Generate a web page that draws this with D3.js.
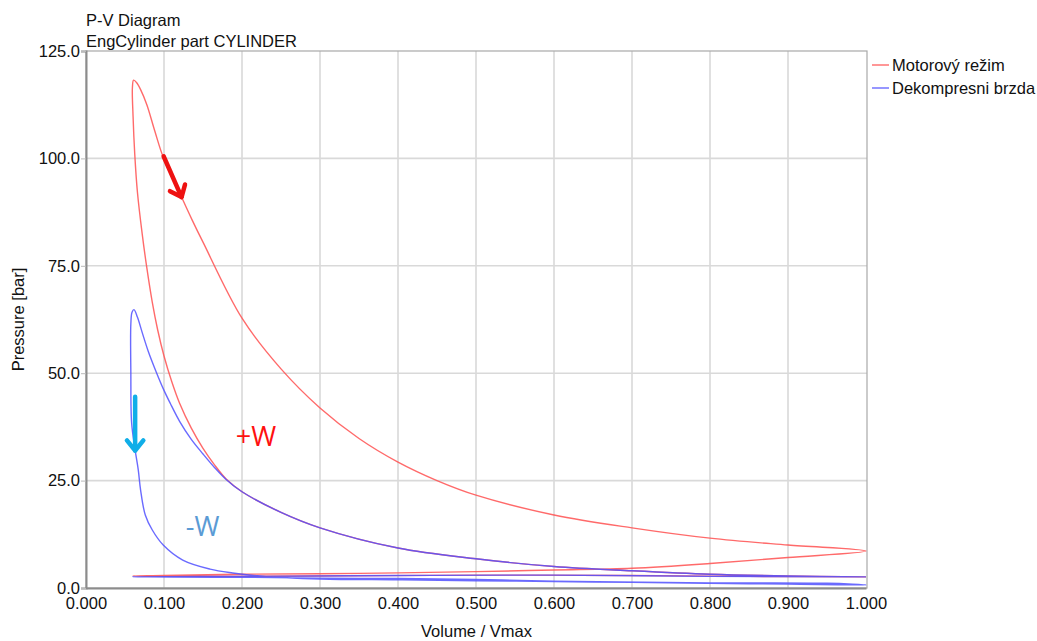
<!DOCTYPE html>
<html>
<head>
<meta charset="utf-8">
<script src="https://cdn.jsdelivr.net/npm/d3@7"></script>
<style>
  html, body { margin: 0; padding: 0; background: #fff; }
  svg text { font-family: "Liberation Sans", Arial, sans-serif; }
</style>
</head>
<body>
<svg id="chart" width="1037" height="641"></svg>
<script>
// Titles and axis labels
const titleLines = ["P-V Diagram", "EngCylinder part CYLINDER"];
const xLabel = "Volume / Vmax";
const yLabel = "Pressure [bar]";
const seriesNames = ["Motorový režim", "Dekompresni brzda"];
const seriesColors = ["#ff5050", "#5050ff"];

const xTicks = [0, 0.1, 0.2, 0.3, 0.4, 0.5, 0.6, 0.7, 0.8, 0.9, 1.0];
const yTicks = [0, 25, 50, 75, 100, 125];

// Engine mode cycle: compression, combustion, expansion, exhaust, intake  [V/Vmax, bar]
const motorCycle = [
  [1.0, 2.6], [0.9, 2.8], [0.8, 3.2], [0.7, 4.0], [0.6, 5.0], [0.5, 6.8],
  [0.4, 9.3], [0.3, 14.0], [0.25, 17.6], [0.2, 22.4], [0.18, 25.3],
  [0.165, 28.6], [0.15, 32.5], [0.135, 37.2], [0.12, 43.0], [0.11, 48.0],
  [0.1, 54.0], [0.092, 60.0], [0.085, 66.5], [0.078, 74.5], [0.072, 82.5],
  [0.066, 92.0], [0.0625, 101.0], [0.0603, 110.0], [0.0595, 116.5], [0.061, 118.2],
  [0.065, 117.6], [0.07, 116.0], [0.078, 112.5], [0.088, 106.5], [0.099, 100.3],
  [0.12, 92.0], [0.136, 85.7], [0.15, 80.5], [0.2, 62.8], [0.25, 51.0],
  [0.3, 41.9], [0.35, 34.8], [0.4, 29.3], [0.45, 25.0], [0.5, 21.6],
  [0.6, 17.0], [0.7, 14.0], [0.8, 11.6], [0.9, 10.0], [1.0, 8.6],
  [0.9, 7.1], [0.8, 5.7], [0.7, 4.6], [0.6, 4.2], [0.5, 3.8], [0.35, 3.4],
  [0.2, 3.2], [0.1, 2.9], [0.06, 2.8],
  [0.1, 2.7], [0.3, 2.8], [0.5, 3.0], [0.7, 2.9], [0.85, 2.7], [1.0, 2.6]
];

// Decompression brake cycle: compression, release at TDC, expansion, exhaust, intake
const brakeCycle = [
  [1.0, 2.6], [0.9, 2.8], [0.8, 3.2], [0.7, 4.0], [0.6, 5.0], [0.5, 6.8],
  [0.4, 9.3], [0.3, 14.0], [0.25, 17.6], [0.2, 22.4], [0.18, 25.2],
  [0.165, 28.0], [0.15, 31.2], [0.135, 34.6], [0.12, 38.8], [0.108, 43.0],
  [0.1, 46.0], [0.09, 50.3], [0.08, 55.0], [0.072, 59.5], [0.066, 63.0],
  [0.0615, 64.8], [0.059, 64.2], [0.0575, 61.5], [0.0575, 50.0],
  [0.0585, 38.4], [0.063, 32.1], [0.067, 27.5], [0.07, 22.8], [0.076, 17.0],
  [0.085, 13.5], [0.099, 10.0], [0.124, 6.5], [0.159, 4.4], [0.188, 3.5],
  [0.223, 2.8], [0.3, 2.1], [0.4, 1.9], [0.5, 1.7], [0.6, 1.5], [0.7, 1.3],
  [0.8, 1.1], [0.9, 0.9], [1.0, 0.7],
  [0.95, 1.1], [0.8, 1.2], [0.6, 1.6], [0.5, 2.0], [0.4, 2.2], [0.3, 2.3],
  [0.2, 2.5], [0.06, 2.6],
  [0.2, 2.7], [0.4, 2.9], [0.6, 3.0], [0.8, 2.7], [1.0, 2.6]
];

// Work direction annotations
const workLabels = [
  { text: "+W", v: 0.192, p: 33.0, color: "#ff1010" },
  { text: "-W", v: 0.128, p: 12.0, color: "#5b9bd5" }
];
const workArrows = [
  { from: [0.0995, 100.5], to: [0.1225, 91.0], color: "#ee1111" },
  { from: [0.063, 44.5], to: [0.063, 32.0], color: "#10aee8" }
];

const svg = d3.select("#chart");
const plot = { left: 86, right: 867, top: 51, bottom: 588 };

const x = d3.scaleLinear().domain([0, 1]).range([plot.left, plot.right - 1]);
const y = d3.scaleLinear().domain([0, 125]).range([plot.bottom, plot.top]);

// grid
const grid = svg.append("g");
grid.selectAll("line.vx").data(xTicks.slice(1, -1)).join("line")
  .attr("x1", d => x(d)).attr("x2", d => x(d))
  .attr("y1", plot.top).attr("y2", plot.bottom)
  .attr("stroke", "#d9d9d9").attr("stroke-width", 1.6);
grid.selectAll("line.hy").data(yTicks.slice(1, -1)).join("line")
  .attr("x1", plot.left).attr("x2", plot.right)
  .attr("y1", d => y(d)).attr("y2", d => y(d))
  .attr("stroke", "#d9d9d9").attr("stroke-width", 1.6);

// frame
svg.append("rect")
  .attr("x", plot.left).attr("y", plot.top)
  .attr("width", plot.right - plot.left).attr("height", plot.bottom - plot.top)
  .attr("fill", "none").attr("stroke", "#a8a8a8").attr("stroke-width", 1.2);

// axes
const yAxis = d3.axisLeft(y).tickValues(yTicks).tickFormat(d3.format(".1f"))
  .tickSize(5).tickPadding(0);
const gy = svg.append("g").attr("transform", `translate(${plot.left},0)`).call(yAxis);
gy.select(".domain").attr("stroke", "#8c8c8c").attr("stroke-width", 2);
gy.selectAll(".tick line").attr("stroke", "#bbbbbb");
gy.selectAll(".tick text").attr("font-size", 16.5).attr("fill", "#111")
  .attr("font-family", "Liberation Sans, Arial, sans-serif").attr("dx", -1);

const xAxis = d3.axisBottom(x).tickValues(xTicks).tickFormat(d3.format(".3f"))
  .tickSize(0).tickPadding(9);
const gx = svg.append("g").attr("transform", `translate(0,${plot.bottom})`).call(xAxis);
gx.select(".domain").attr("stroke", "#8c8c8c").attr("stroke-width", 2);
gx.selectAll(".tick text").attr("font-size", 16.5).attr("fill", "#111")
  .attr("font-family", "Liberation Sans, Arial, sans-serif");

// cycle curves
const line = d3.line().x(d => x(d[0])).y(d => y(d[1]))
  .curve(d3.curveCatmullRom.alpha(0.5));
[motorCycle, brakeCycle].forEach((data, i) => {
  svg.append("path").datum(data)
    .attr("d", line)
    .attr("fill", "none")
    .attr("stroke", seriesColors[i])
    .attr("stroke-opacity", 0.85)
    .attr("stroke-width", 1.4)
    .attr("stroke-linejoin", "round");
});

// arrows
workArrows.forEach(a => {
  const x0 = x(a.from[0]), y0 = y(a.from[1]);
  const x1 = x(a.to[0]), y1 = y(a.to[1]);
  const ang = Math.atan2(y1 - y0, x1 - x0);
  const head = 13, spread = Math.PI / 4.6;
  const g = svg.append("g").attr("stroke", a.color).attr("stroke-width", 4.5)
    .attr("stroke-linecap", "round").attr("fill", "none");
  g.append("line").attr("x1", x0).attr("y1", y0).attr("x2", x1).attr("y2", y1);
  g.append("path").attr("stroke-linejoin", "round").attr("d",
    `M${x1 - head * Math.cos(ang - spread)},${y1 - head * Math.sin(ang - spread)}` +
    `L${x1},${y1}` +
    `L${x1 - head * Math.cos(ang + spread)},${y1 - head * Math.sin(ang + spread)}`);
});

// work labels
svg.selectAll("text.work").data(workLabels).join("text")
  .attr("class", "work")
  .attr("x", d => x(d.v)).attr("y", d => y(d.p))
  .attr("font-size", 27).attr("fill", d => d.color)
  .style("font-family", "'Open Sans', 'Liberation Sans', sans-serif")
  .text(d => d.text);

// titles
svg.selectAll("text.title").data(titleLines).join("text")
  .attr("class", "title")
  .attr("x", plot.left).attr("y", (d, i) => 26 + i * 21)
  .attr("font-size", 16.5).attr("fill", "#111")
  .text(d => d);

// axis titles
svg.append("text").attr("x", (plot.left + plot.right) / 2).attr("y", 637)
  .attr("text-anchor", "middle").attr("font-size", 16.5).attr("fill", "#111")
  .text(xLabel);
svg.append("text")
  .attr("transform", `translate(24,${(plot.top + plot.bottom) / 2}) rotate(-90)`)
  .attr("text-anchor", "middle").attr("font-size", 16.5).attr("fill", "#111")
  .text(yLabel);

// legend
const legend = svg.append("g").attr("transform", `translate(${plot.right + 5},65)`);
seriesNames.forEach((name, i) => {
  const row = legend.append("g").attr("transform", `translate(0,${i * 23})`);
  row.append("line").attr("x1", 0).attr("x2", 17).attr("y1", 0).attr("y2", 0)
    .attr("stroke", seriesColors[i]).attr("stroke-width", 1.4).attr("stroke-opacity", 0.85);
  row.append("text").attr("x", 20).attr("y", 6).attr("font-size", 16.5)
    .attr("fill", "#111").text(name);
});
</script>
</body>
</html>
